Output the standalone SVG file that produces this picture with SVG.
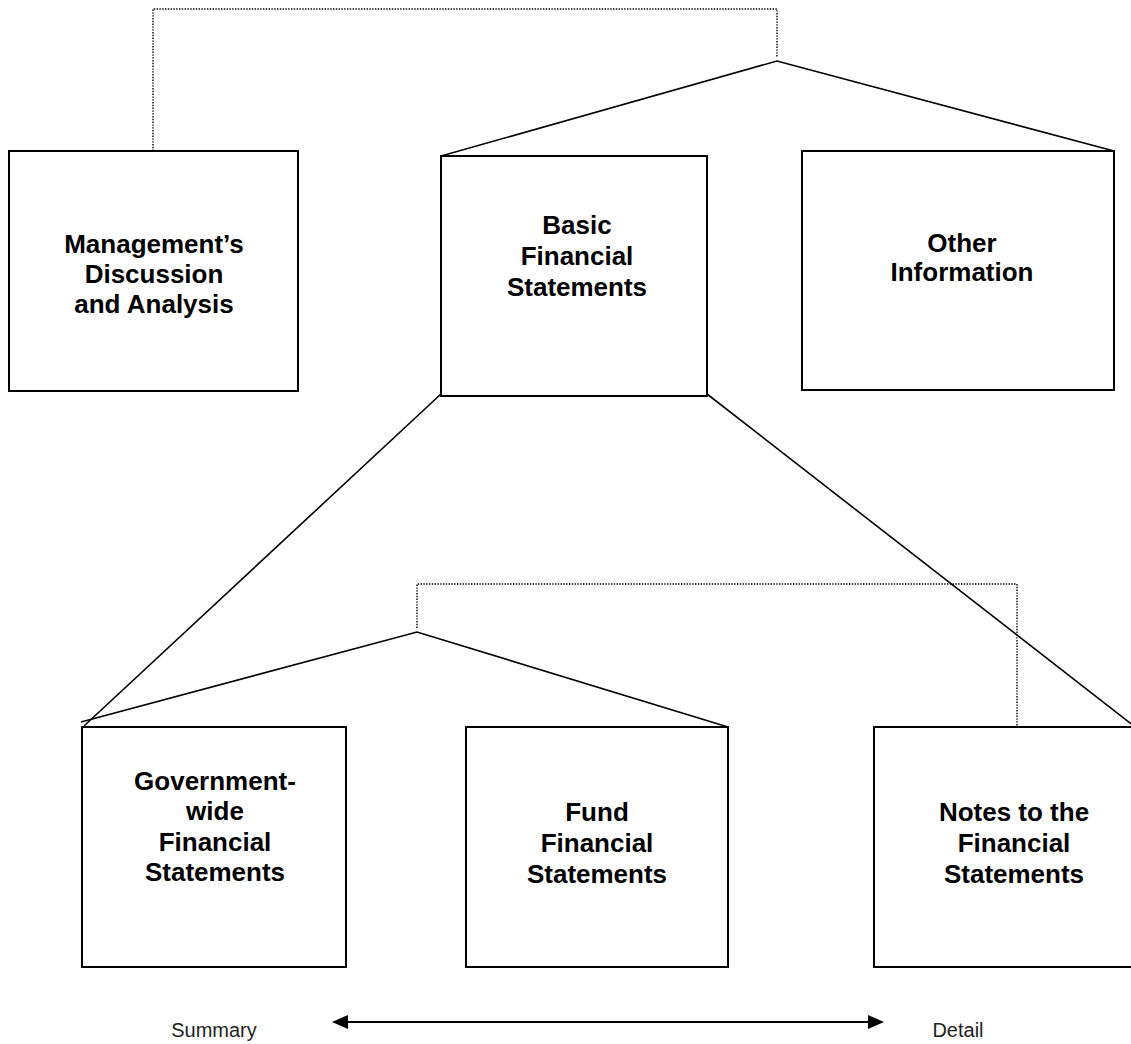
<svg xmlns="http://www.w3.org/2000/svg" width="1131" height="1044" viewBox="0 0 1131 1044">
<style>
.box{fill:#fff;stroke:#000;stroke-width:2}
.lbl{font-family:"Liberation Sans",Arial,sans-serif;font-weight:bold;font-size:26px;fill:#000;text-anchor:middle}
.cap{font-family:"Liberation Sans",Arial,sans-serif;font-size:20px;fill:#222;text-anchor:middle}
.ln{fill:none;stroke:#000;stroke-width:1.6}
.dot{fill:none;stroke:#000;stroke-width:1.4;stroke-dasharray:1.4 1.4}
</style>
<rect width="1131" height="1044" fill="#fff"/>
<g id="connectors">
<polyline class="dot" points="153,151 153,9 777,9 777,57"/>
<polyline class="ln" points="441,156 777,61 1114,151"/>
<line class="ln" x1="441" y1="394" x2="84" y2="726"/>
<line class="ln" x1="707" y1="394" x2="1134" y2="726"/>
<polyline class="dot" points="417,628 417,584 1017,584 1017,727"/>
<polyline class="ln" points="81,722 417,632 728,727"/>
<g id="scale-arrow">
<line x1="345" y1="1022" x2="871" y2="1022" stroke="#000" stroke-width="2"/>
<polygon points="332,1022 348,1015 348,1029" fill="#000"/>
<polygon points="884,1022 868,1015 868,1029" fill="#000"/>
</g>
</g>
<g id="mda">
<rect class="box" x="9" y="151" width="289" height="240"/>
<text class="lbl"><tspan x="154" y="253">Management’s</tspan><tspan x="154" y="283">Discussion</tspan><tspan x="154" y="313">and Analysis</tspan></text>
</g>
<g id="basic">
<rect class="box" x="441" y="156" width="266" height="240"/>
<text class="lbl"><tspan x="577" y="234">Basic</tspan><tspan x="577" y="265">Financial</tspan><tspan x="577" y="296">Statements</tspan></text>
</g>
<g id="other">
<rect class="box" x="802" y="151" width="312" height="239"/>
<text class="lbl"><tspan x="962" y="252">Other</tspan><tspan x="962" y="281">Information</tspan></text>
</g>
<g id="govwide">
<rect class="box" x="82" y="727" width="264" height="240"/>
<text class="lbl"><tspan x="215" y="790">Government-</tspan><tspan x="215" y="820">wide</tspan><tspan x="215" y="851">Financial</tspan><tspan x="215" y="881">Statements</tspan></text>
</g>
<g id="fund">
<rect class="box" x="466" y="727" width="262" height="240"/>
<text class="lbl"><tspan x="597" y="821">Fund</tspan><tspan x="597" y="852">Financial</tspan><tspan x="597" y="883">Statements</tspan></text>
</g>
<g id="notes">
<rect class="box" x="874" y="727" width="280" height="240"/>
<text class="lbl"><tspan x="1014" y="821">Notes to the</tspan><tspan x="1014" y="852">Financial</tspan><tspan x="1014" y="883">Statements</tspan></text>
</g>
<g id="captions">
<text class="cap" x="214" y="1037">Summary</text>
<text class="cap" x="958" y="1037">Detail</text>
</g>
</svg>
